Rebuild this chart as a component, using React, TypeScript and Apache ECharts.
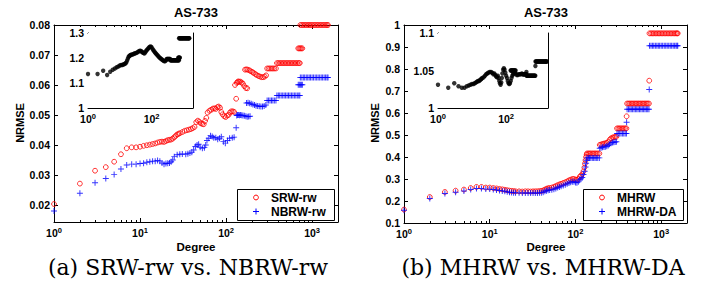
import React, { useEffect, useRef } from 'react';
import * as echarts from 'echarts';

type P = [number, number];

// ---------- Panel (a): SRW-rw vs NBRW-rw ----------
const srwLow: P[] = [
  [1, 0.0203], [2, 0.0271], [3, 0.0314], [4, 0.0326], [5, 0.0344], [6, 0.0369], [7, 0.0389], [8, 0.0392],
  [9, 0.0392], [10, 0.0394], [11, 0.0397], [12, 0.0399], [13, 0.0401], [14, 0.0403], [15, 0.0405], [16, 0.0408],
  [17, 0.041], [18, 0.0411], [19, 0.041], [20, 0.0413], [21, 0.0416], [22, 0.0417], [23, 0.0418], [24, 0.0421],
  [25, 0.0426], [26, 0.043], [27, 0.0435], [28, 0.0437], [29, 0.0439], [31, 0.0443], [33, 0.0447], [35, 0.0449],
  [37, 0.0451], [39, 0.0453], [41, 0.0456], [43, 0.046], [45, 0.0476], [47, 0.0481], [49, 0.0477], [51, 0.0472],
  [53, 0.047], [55, 0.0469], [57, 0.048], [59, 0.049], [61, 0.0508], [64, 0.0514], [67, 0.0517], [70, 0.0521],
  [73, 0.0522], [76, 0.052], [79, 0.0526], [82, 0.0528], [85, 0.0524], [88, 0.051], [91, 0.0502], [95, 0.0496],
  [99, 0.0493], [103, 0.0498], [107, 0.05], [111, 0.0508], [115, 0.0512], [120, 0.0512], [124, 0.051], [131, 0.0554],
];
const srwCluster: P[] = [
  [127, 0.06], [133, 0.0607], [136, 0.061], [139, 0.0612], [143, 0.061], [147, 0.0611], [152, 0.0608],
  [157, 0.0604], [163, 0.0596], [170, 0.059], [176, 0.0589],
];
const srwBlob: P[] = [
  [166, 0.0651], [172, 0.0652], [179, 0.0651], [186, 0.0649], [194, 0.0646], [202, 0.0643], [210, 0.064],
  [219, 0.0636], [228, 0.0633], [238, 0.063], [248, 0.0628], [259, 0.0626], [270, 0.0626], [281, 0.0628], [292, 0.0632],
];
const nbrwLow: P[] = [
  [1, 0.018], [2, 0.0239], [3, 0.0274], [4, 0.0288], [5, 0.0301], [6, 0.032], [7, 0.0333], [8, 0.0336],
  [9, 0.0336], [10, 0.0338], [11, 0.0339], [12, 0.0342], [13, 0.0344], [14, 0.0346], [15, 0.0346], [16, 0.0348],
  [17, 0.0346], [18, 0.034], [19, 0.0336], [20, 0.0338], [21, 0.0339], [22, 0.034], [23, 0.0344], [24, 0.035],
  [25, 0.0361], [27, 0.0367], [29, 0.0369], [31, 0.037], [34, 0.0369], [36, 0.0371], [38, 0.0373], [40, 0.0376],
  [42, 0.0383], [44, 0.0395], [46, 0.04], [48, 0.0402], [50, 0.0392], [53, 0.0389], [56, 0.0391], [58, 0.04],
  [60, 0.0415], [63, 0.0422], [66, 0.0431], [69, 0.0428], [72, 0.0424], [76, 0.0424], [80, 0.0419], [84, 0.0422],
  [88, 0.0427], [93, 0.0411], [98, 0.0406], [104, 0.0415], [110, 0.0422], [118, 0.0424], [124, 0.0426], [131, 0.0457],
];
const nbrwCluster: P[] = [
  [133, 0.0498], [136, 0.05], [139, 0.05], [143, 0.0499], [147, 0.05], [152, 0.0499], [157, 0.0498],
  [163, 0.0497], [170, 0.0496], [176, 0.0494], [183, 0.0495], [190, 0.0496],
];
const nbrwBlob: P[] = [
  [173, 0.054], [180, 0.0541], [188, 0.0539], [196, 0.0537], [205, 0.0535], [214, 0.0533], [223, 0.0531],
  [233, 0.053], [243, 0.0529], [254, 0.0528], [265, 0.0528], [277, 0.053], [290, 0.0533],
];
const ratioA: P[] = [
  [1, 1.136], [2, 1.136], [3, 1.149], [4, 1.132], [5, 1.145], [6, 1.153], [7, 1.158], [8, 1.163], [9, 1.166],
  [10, 1.17], [11, 1.172], [12, 1.172], [13, 1.174], [14, 1.176], [15, 1.178], [16, 1.182], [17, 1.19], [18, 1.198],
  [19, 1.205], [20, 1.208], [21, 1.21], [22, 1.212], [23, 1.213], [25, 1.214], [27, 1.216], [29, 1.218], [31, 1.219],
  [34, 1.221], [37, 1.224], [40, 1.227], [43, 1.229], [46, 1.228], [49, 1.225], [52, 1.222], [55, 1.221], [59, 1.218],
  [63, 1.222], [67, 1.228], [71, 1.232], [76, 1.236], [81, 1.24], [86, 1.244], [92, 1.246], [98, 1.244], [105, 1.238],
  [112, 1.232], [120, 1.227], [128, 1.222], [136, 1.218], [145, 1.214], [155, 1.21], [165, 1.206], [176, 1.202],
  [188, 1.199], [200, 1.196], [215, 1.193], [230, 1.19], [245, 1.188], [262, 1.187], [280, 1.19],
];

// degree runs that share one value (dense horizontal bars)
const barDegA = [300, 312, 324, 337, 350, 364, 380];
const barDegB = [390, 405, 420, 437, 455, 473, 492, 512, 532, 553, 575, 598, 622, 647, 673, 700, 720];
const barDegC = [690, 710, 730, 750, 770];
const barDegD = [730, 760, 790, 820, 855, 890, 925, 960, 1000, 1040, 1085, 1130, 1175, 1225, 1275, 1325, 1380, 1435, 1490, 1530];
const srwBarVals = [0.0655, 0.0673, 0.0722, 0.08];
const nbrwBarVals = [0.0548, 0.0565, 0.0601, 0.0625];
const ratioABarVals = [1.196, 1.191, 1.201, 1.279];

// ---------- Panel (b): MHRW vs MHRW-DA ----------
const mhrwLow: P[] = [
  [1, 0.161], [2, 0.218], [3, 0.241], [4, 0.247], [5, 0.252], [6, 0.259], [7, 0.264], [8, 0.264], [9, 0.261],
  [10, 0.261], [11, 0.259], [12, 0.257], [13, 0.255], [14, 0.253], [15, 0.251], [16, 0.249], [17, 0.247], [18, 0.246],
  [19, 0.245], [20, 0.244], [22, 0.244], [24, 0.243], [26, 0.244], [28, 0.244], [30, 0.243], [32, 0.244], [34, 0.244],
  [36, 0.244], [38, 0.245], [40, 0.246], [42, 0.248], [44, 0.252], [46, 0.256], [48, 0.258], [50, 0.259], [53, 0.261],
  [56, 0.264], [59, 0.268], [62, 0.272], [65, 0.275], [68, 0.278], [72, 0.282], [76, 0.285], [80, 0.289], [84, 0.294],
  [88, 0.297], [92, 0.3], [96, 0.3], [100, 0.297], [104, 0.296], [108, 0.3], [112, 0.31], [116, 0.315], [120, 0.322],
  [124, 0.335], [127, 0.352], [129, 0.37], [131, 0.385], [133, 0.4], [135, 0.41],
  [192, 0.455], [199, 0.457], [207, 0.459], [215, 0.461], [223, 0.462], [232, 0.464], [241, 0.468], [250, 0.478],
  [260, 0.485], [270, 0.488], [280, 0.49], [290, 0.491], [300, 0.492], [395, 0.585], [725, 0.747],
];
const mhrwdaLow: P[] = [
  [1, 0.158], [2, 0.211], [3, 0.234], [4, 0.24], [5, 0.245], [6, 0.252], [7, 0.257], [8, 0.257], [9, 0.254],
  [10, 0.254], [11, 0.252], [12, 0.25], [13, 0.248], [14, 0.246], [15, 0.244], [16, 0.242], [17, 0.24], [18, 0.239],
  [19, 0.238], [20, 0.237], [22, 0.237], [24, 0.236], [26, 0.236], [28, 0.236], [30, 0.236], [32, 0.236], [34, 0.236],
  [36, 0.236], [38, 0.237], [40, 0.238], [42, 0.24], [44, 0.244], [46, 0.247], [48, 0.249], [50, 0.25], [53, 0.251],
  [56, 0.253], [59, 0.257], [62, 0.261], [65, 0.264], [68, 0.267], [72, 0.271], [76, 0.274], [80, 0.278], [84, 0.282],
  [88, 0.285], [92, 0.288], [96, 0.287], [100, 0.284], [104, 0.283], [108, 0.287], [112, 0.297], [116, 0.301],
  [120, 0.307], [124, 0.32], [128, 0.335], [131, 0.355], [133, 0.372], [135, 0.385],
  [192, 0.44], [199, 0.442], [207, 0.444], [215, 0.446], [223, 0.447], [232, 0.449], [241, 0.452], [250, 0.458],
  [260, 0.463], [270, 0.466], [280, 0.467], [290, 0.468], [300, 0.469], [395, 0.558], [725, 0.707],
];
const ratioB: P[] = [
  [1, 1.031], [2, 1.027], [3, 1.033], [4, 1.029], [5, 1.027], [6, 1.027], [7, 1.029], [8, 1.03], [9, 1.031],
  [10, 1.032], [11, 1.032], [12, 1.033], [13, 1.034], [14, 1.035], [15, 1.036], [16, 1.036], [17, 1.037], [18, 1.038],
  [19, 1.039], [20, 1.04], [22, 1.041], [24, 1.043], [26, 1.045], [28, 1.046], [30, 1.047], [33, 1.048], [36, 1.048],
  [39, 1.047], [42, 1.045], [45, 1.046], [48, 1.044], [51, 1.042], [54, 1.041], [57, 1.043], [60, 1.04], [63, 1.036],
  [66, 1.033], [69, 1.031], [72, 1.034], [75, 1.04], [78, 1.046], [82, 1.051], [86, 1.053], [90, 1.051], [95, 1.047],
  [100, 1.043], [106, 1.04], [112, 1.036], [118, 1.033], [124, 1.032], [130, 1.033], [137, 1.036], [144, 1.04],
  [152, 1.043], [160, 1.045], [170, 1.046], [180, 1.047], [192, 1.046], [205, 1.044], [220, 1.044], [236, 1.045],
  [252, 1.045], [270, 1.045], [290, 1.046], [395, 1.048], [725, 1.056],
];
const rBarDeg1 = [136, 141, 146, 151, 157, 163, 169, 175, 182, 190];
const rBarDeg2 = [305, 316, 328, 340, 353, 366, 380, 393];
const rBarDeg3 = [400, 415, 431, 447, 464, 482, 500, 519, 538, 558, 579, 601, 624, 647, 671, 696, 720];
const rBarDeg4 = [730, 760, 790, 820, 855, 890, 925, 960, 1000, 1040, 1085, 1130, 1175, 1225, 1275, 1325, 1380, 1435, 1490, 1530, 1560];
const mhrwBarVals = [0.416, 0.53, 0.643, 0.962];
const mhrwdaBarVals = [0.396, 0.507, 0.617, 0.906];
const ratioBBarVals = [1.05, 1.045, 1.043, 1.062];

// ticks
const majorX = [1, 10, 100, 1000];
const minorX = [2, 3, 4, 5, 6, 7, 8, 9, 20, 30, 40, 50, 60, 70, 80, 90, 200, 300, 400, 500, 600, 700, 800, 900];
const insetX = [1, 100];
const yTicksA = [0.02, 0.03, 0.04, 0.05, 0.06, 0.07, 0.08];
const yTicksB = [0.1, 0.2, 0.3, 0.4, 0.5, 0.6, 0.7, 0.8, 0.9, 1];
const yTicksIA = [1, 1.1, 1.2, 1.3];
const yTicksIB = [1, 1.05, 1.1];

const run = (degs: number[], v: number): P[] => degs.map((d) => [d, v] as P);
const runs = (lists: number[][], vals: number[]): P[] => lists.flatMap((l, i) => run(l, vals[i]));

const FONT = '"Liberation Sans", Arial, Helvetica, sans-serif';
const SERIF = '"DejaVu Serif", "Liberation Serif", serif';
const PLUS = 'path://M0,4.2h10v1.6h-10z M4.2,0h1.6v10h-1.6z';

const fmtNum = (v: number) => String(+v.toFixed(3));

function xAxes(grid: number, max: number, pos: 'bottom' | 'top', withLabel: boolean, majors: number[], minors: number[] | null, len: number, margin: number, fs: number) {
  const base = {
    type: 'log', logBase: 10, min: 1, max, gridIndex: grid, position: pos,
    splitLine: { show: false }, minorTick: { show: false }, minorSplitLine: { show: false },
  };
  const out: any[] = [
    {
      ...base,
      axisLine: { show: true, onZero: false, lineStyle: { color: '#000', width: 1 } },
      axisTick: { show: true, inside: true, length: len, customValues: majors, lineStyle: { color: '#000', width: 1 } },
      axisLabel: withLabel
        ? {
            show: true, margin, customValues: majors,
            formatter: (v: number) => `{b|10}{s|${Math.round(Math.log10(v))}}`,
            rich: {
              b: { fontSize: fs, fontWeight: 'bold', fontFamily: FONT, color: '#000' },
              s: { fontSize: fs * 0.72, fontWeight: 'bold', fontFamily: FONT, color: '#000', padding: [0, 0, fs * 0.65, 0] },
            },
          }
        : { show: false },
    },
  ];
  if (minors) {
    out.push({
      ...base,
      axisLine: { show: false, onZero: false },
      axisTick: { show: true, inside: true, length: 2, customValues: minors, lineStyle: { color: '#000', width: 1 } },
      axisLabel: { show: false },
    });
  }
  return out;
}

function yAxes(grid: number, min: number, max: number, ticks: number[], len: number, fs: number) {
  const base = {
    type: 'value', min, max, gridIndex: grid, splitLine: { show: false },
    axisLine: { show: true, onZero: false, lineStyle: { color: '#000', width: 1 } },
    axisTick: { show: true, inside: true, length: len, customValues: ticks, lineStyle: { color: '#000', width: 1 } },
  };
  return [
    {
      ...base, position: 'left',
      axisLabel: {
        show: true, customValues: ticks, margin: 4, formatter: fmtNum,
        fontSize: fs, fontWeight: 'bold', fontFamily: FONT, color: '#000',
      },
    },
    { ...base, position: 'right', axisLabel: { show: false } },
  ];
}

function scatter(name: string, xi: number, yi: number, data: P[], kind: 'o' | '+' | '*', color: string, z = 2) {
  const s: any = { type: 'scatter', name, xAxisIndex: xi, yAxisIndex: yi, data, clip: false, silent: true, z };
  if (kind === 'o') {
    s.symbol = 'circle';
    s.symbolSize = 4.8;
    s.itemStyle = { color: 'rgba(0,0,0,0)', borderColor: color, borderWidth: 1 };
  } else if (kind === '+') {
    s.symbol = PLUS;
    s.symbolSize = 6;
    s.itemStyle = { color };
  } else {
    s.symbol = 'circle';
    s.symbolSize = 4.4;
    s.itemStyle = { color };
  }
  return s;
}

function legendBox(x: number, y: number, w: number, h: number, labels: string[]) {
  const cx = x + 19;
  const tx = x + 34;
  return [
    { type: 'rect', shape: { x: x + 0.5, y: y + 0.5, width: w, height: h }, style: { fill: '#fff', stroke: '#000', lineWidth: 1 }, z: 100 },
    { type: 'circle', shape: { cx, cy: y + 8.5, r: 2.4 }, style: { fill: 'none', stroke: '#ff0000', lineWidth: 1 }, z: 101 },
    { type: 'line', shape: { x1: cx - 3, y1: y + 22.5, x2: cx + 3, y2: y + 22.5 }, style: { stroke: '#0000ff', lineWidth: 1 }, z: 101 },
    { type: 'line', shape: { x1: cx, y1: y + 19.5, x2: cx, y2: y + 25.5 }, style: { stroke: '#0000ff', lineWidth: 1 }, z: 101 },
    { type: 'text', x: tx, y: y + 8.5, z: 101, style: { text: labels[0], fill: '#000', fontSize: 12, fontWeight: 'bold', fontFamily: FONT, align: 'left', verticalAlign: 'middle', textAlign: 'left', textVerticalAlign: 'middle' } },
    { type: 'text', x: tx, y: y + 22.5, z: 101, style: { text: labels[1], fill: '#000', fontSize: 12, fontWeight: 'bold', fontFamily: FONT, align: 'left', verticalAlign: 'middle', textAlign: 'left', textVerticalAlign: 'middle' } },
  ];
}

function txt(x: number, y: number, text: string, fontSize: number, bold: boolean, family: string, rotation = 0) {
  return {
    type: 'text', x, y, rotation, z: 100,
    style: {
      text, fill: '#000', fontSize, fontWeight: bold ? 'bold' : 'normal', fontFamily: family,
      align: 'center', verticalAlign: 'middle', textAlign: 'center', textVerticalAlign: 'middle',
    },
  };
}

export default function App() {
  const ref = useRef<HTMLDivElement>(null);
  useEffect(() => {
    const chart = echarts.init(ref.current!, null, { renderer: 'svg' });

    const xAxis = [
      ...xAxes(0, 2000, 'bottom', true, majorX, minorX, 4, 4, 10.5), // 0,1
      ...xAxes(0, 2000, 'top', false, majorX, minorX, 4, 4, 10.5), // 2,3
      ...xAxes(1, 2000, 'bottom', true, majorX, minorX, 4, 4, 10.5), // 4,5
      ...xAxes(1, 2000, 'top', false, majorX, minorX, 4, 4, 10.5), // 6,7
      ...xAxes(2, 2000, 'bottom', true, insetX, null, 3, 4, 10.5), // 8
      ...xAxes(2, 2000, 'top', false, insetX, null, 3, 4, 10.5), // 9
      ...xAxes(3, 1700, 'bottom', true, insetX, null, 3, 4, 10.5), // 10
      ...xAxes(3, 1700, 'top', false, insetX, null, 3, 4, 10.5), // 11
    ];
    const yAxis = [
      ...yAxes(0, 0.0143, 0.08, yTicksA, 4, 10.5), // 0,1
      ...yAxes(1, 0.1, 1, yTicksB, 4, 10.5), // 2,3
      ...yAxes(2, 1, 1.3, yTicksIA, 3, 10.5), // 4,5
      ...yAxes(3, 1, 1.1, yTicksIB, 3, 10.5), // 6,7
    ];

    const option: any = {
      animation: false,
      backgroundColor: '#fff',
      grid: [
        { left: 54, top: 25, width: 284, height: 197, containLabel: false },
        { left: 404, top: 25, width: 283, height: 198, containLabel: false },
        { left: 88, top: 33, width: 105, height: 75, show: true, backgroundColor: '#fff', borderWidth: 0, z: 5 },
        { left: 438, top: 33, width: 110, height: 75, show: true, backgroundColor: '#fff', borderWidth: 0, z: 5 },
      ],
      xAxis,
      yAxis,
      series: [
        scatter('SRW-rw', 0, 0, [...srwLow, ...srwCluster, ...srwBlob, ...runs([barDegA, barDegB, barDegC, barDegD], srwBarVals)], 'o', '#ff0000'),
        scatter('NBRW-rw', 0, 0, [...nbrwLow, ...nbrwCluster, ...nbrwBlob, ...runs([barDegA, barDegB, barDegC, barDegD], nbrwBarVals)], '+', '#0000ff', 3),
        scatter('ratio-a', 8, 4, [...ratioA, ...runs([barDegA, barDegB, barDegC, barDegD], ratioABarVals)], '*', '#000', 6),
        scatter('MHRW', 4, 2, [...mhrwLow, ...runs([rBarDeg1, rBarDeg2, rBarDeg3, rBarDeg4], mhrwBarVals)], 'o', '#ff0000'),
        scatter('MHRW-DA', 4, 2, [...mhrwdaLow, ...runs([rBarDeg1, rBarDeg2, rBarDeg3, rBarDeg4], mhrwdaBarVals)], '+', '#0000ff', 3),
        scatter('ratio-b', 10, 6, [...ratioB, ...runs([rBarDeg1, rBarDeg2, rBarDeg3, rBarDeg4], ratioBBarVals)], '*', '#000', 6),
      ],
      graphic: [
        txt(196, 12, 'AS-733', 13, true, FONT),
        txt(546, 12, 'AS-733', 13, true, FONT),
        txt(20, 123, 'NRMSE', 11, true, FONT, Math.PI / 2),
        txt(375, 123, 'NRMSE', 11, true, FONT, Math.PI / 2),
        txt(196, 247, 'Degree', 11.5, true, FONT),
        txt(546, 247, 'Degree', 11.5, true, FONT),
        txt(188, 267, '(a) SRW-rw vs. NBRW-rw', 22, false, SERIF),
        txt(543, 267, '(b) MHRW vs. MHRW-DA', 22, false, SERIF),
        ...legendBox(237, 189, 97, 31, ['SRW-rw', 'NBRW-rw']),
        ...legendBox(583, 189, 100, 31, ['MHRW', 'MHRW-DA']),
      ],
    };
    chart.setOption(option);
    return () => chart.dispose();
  }, []);
  return <div ref={ref} style={{ position: 'fixed', left: 0, top: 0, width: 710, height: 289, background: '#fff' }} />;
}
